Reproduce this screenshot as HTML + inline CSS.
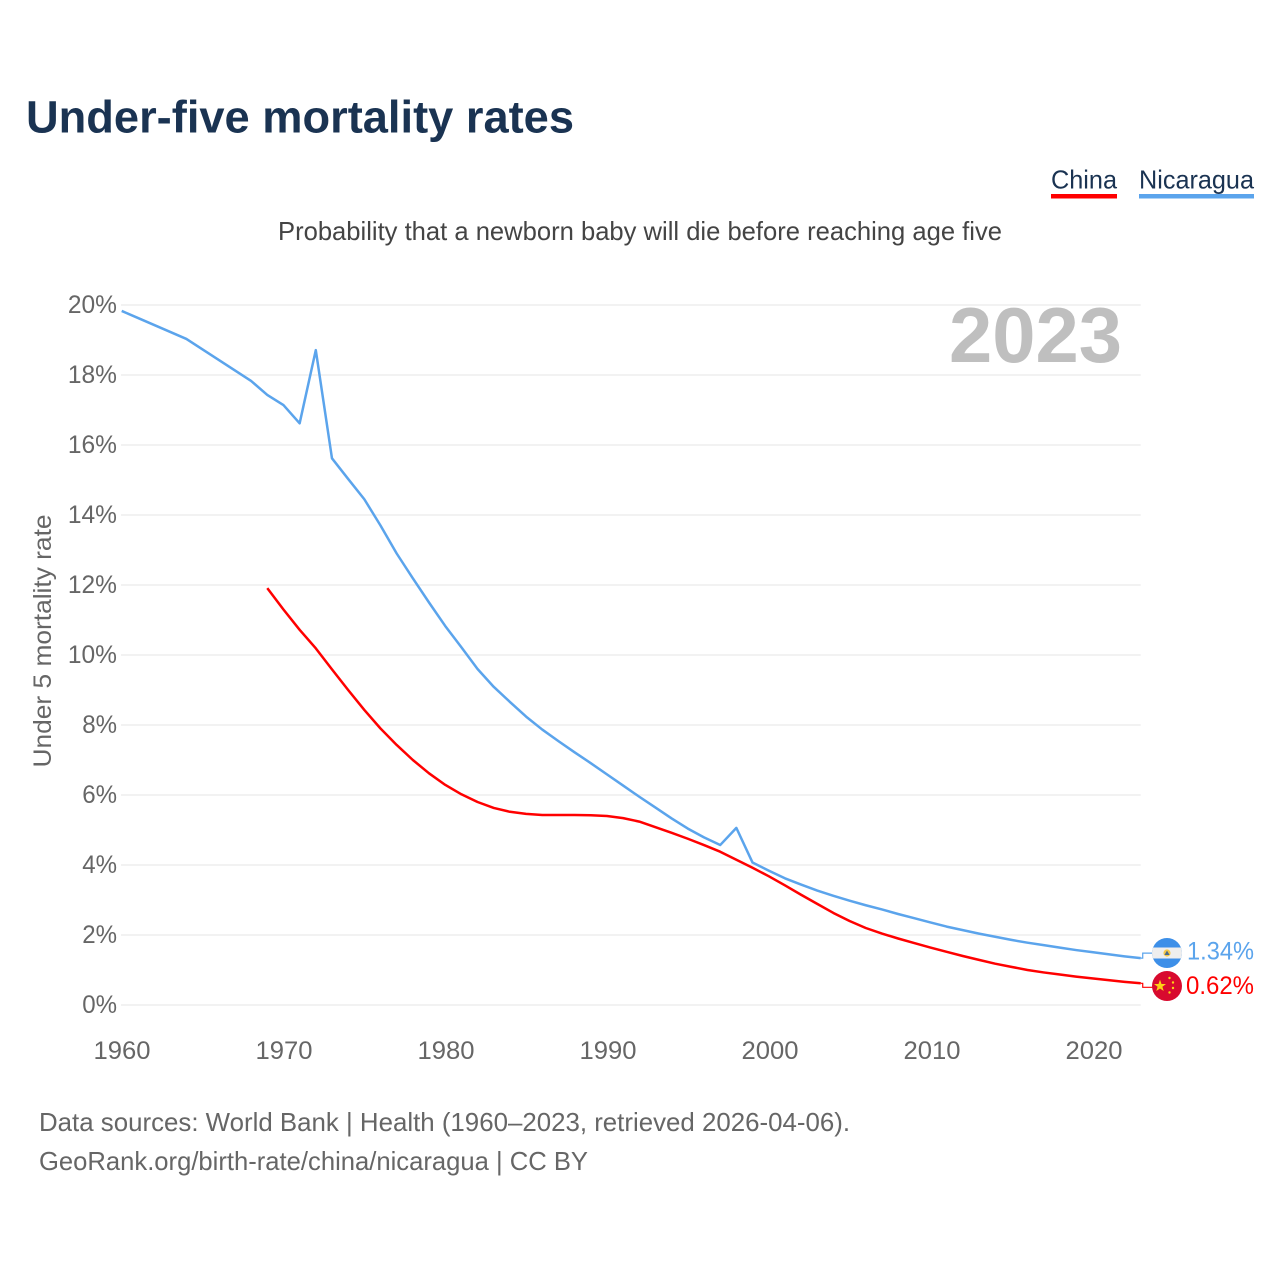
<!DOCTYPE html>
<html lang="en">
<head>
<meta charset="utf-8">
<title>Under-five mortality rates</title>
<style>
html,body{margin:0;padding:0;background:#fff;width:1280px;height:1280px;overflow:hidden}
svg{display:block;font-family:"Liberation Sans",Arial,sans-serif}
</style>
</head>
<body>
<svg id="chart" xmlns="http://www.w3.org/2000/svg" width="1280" height="1280" viewBox="0 0 1280 1280">
  <rect x="0" y="0" width="1280" height="1280" fill="#fff"/>
  <text x="26" y="132.5" font-size="45" font-weight="700" fill="#1a3352" textLength="548" lengthAdjust="spacingAndGlyphs">Under-five mortality rates</text>
  <g>
    <text x="1051" y="188.5" font-size="26" fill="#1a3352" textLength="66" lengthAdjust="spacingAndGlyphs">China</text>
    <rect x="1051" y="194" width="66" height="4.5" fill="#ff0000"/>
  </g>
  <g>
    <text x="1139" y="188.5" font-size="26" fill="#1a3352" textLength="115" lengthAdjust="spacingAndGlyphs">Nicaragua</text>
    <rect x="1139" y="194" width="115" height="4.5" fill="#5ba4ec"/>
  </g>
  <text x="278" y="240" font-size="26" fill="#444" textLength="724" lengthAdjust="spacingAndGlyphs">Probability that a newborn baby will die before reaching age five</text>
  <text transform="translate(51,641) rotate(-90)" text-anchor="middle" font-size="25" fill="#666" textLength="253" lengthAdjust="spacingAndGlyphs">Under 5 mortality rate</text>
  <g id="grid"></g>
  <g id="y-ticks"></g>
  <g id="x-ticks"></g>
  <text x="949" y="362" font-size="78" font-weight="700" fill="#bfbfbf" textLength="173" lengthAdjust="spacingAndGlyphs">2023</text>
  <g id="series"></g>
  <defs>
    <clipPath id="nic-clip"><circle cx="1167" cy="953" r="15"/></clipPath>
  </defs>
  <g>
    <g clip-path="url(#nic-clip)">
      <rect x="1152" y="938" width="30" height="30" fill="#3d8fe8"/>
      <rect x="1152" y="947.5" width="30" height="11" fill="#eeeeee"/>
    </g>
    <circle cx="1167" cy="953" r="3.6" fill="#f6c94a"/>
    <polygon points="1167,950.6 1169.6,955 1164.4,955" fill="#4b6c8c"/>
  </g>
  <g>
    <circle cx="1167" cy="986" r="15" fill="#d80a2e"/>
    <polygon points="1160,979.6 1161.5,984 1166,984 1162.4,986.8 1163.7,991 1160,988.5 1156.3,991 1157.6,986.8 1154,984 1158.5,984" fill="#fcd116"/>
    <circle cx="1169.5" cy="978" r="1.2" fill="#fcd116"/>
    <circle cx="1173" cy="982.5" r="1.2" fill="#fcd116"/>
    <circle cx="1173" cy="988" r="1.2" fill="#fcd116"/>
    <circle cx="1169.5" cy="992.5" r="1.2" fill="#fcd116"/>
  </g>
  <text x="39" y="1131" font-size="26" fill="#666" textLength="811" lengthAdjust="spacingAndGlyphs">Data sources: World Bank | Health (1960–2023, retrieved 2026-04-06).</text>
  <text x="39" y="1170" font-size="26" fill="#666" textLength="549" lengthAdjust="spacingAndGlyphs">GeoRank.org/birth-rate/china/nicaragua | CC BY</text>
</svg>
<script>
const years = [1960,1961,1962,1963,1964,1965,1966,1967,1968,1969,1970,1971,1972,1973,1974,1975,1976,1977,1978,1979,1980,1981,1982,1983,1984,1985,1986,1987,1988,1989,1990,1991,1992,1993,1994,1995,1996,1997,1998,1999,2000,2001,2002,2003,2004,2005,2006,2007,2008,2009,2010,2011,2012,2013,2014,2015,2016,2017,2018,2019,2020,2021,2022,2023];
const nicaragua = [19.83,19.63,19.43,19.23,19.03,18.73,18.43,18.13,17.83,17.43,17.14,16.62,18.71,15.62,15.03,14.45,13.7,12.9,12.19,11.5,10.83,10.22,9.6,9.09,8.66,8.24,7.87,7.54,7.22,6.91,6.59,6.27,5.95,5.64,5.33,5.04,4.79,4.57,5.06,4.07,3.84,3.62,3.44,3.27,3.12,2.98,2.85,2.73,2.6,2.48,2.36,2.24,2.14,2.04,1.95,1.86,1.78,1.71,1.64,1.57,1.51,1.45,1.39,1.34];
const china = [null,null,null,null,null,null,null,null,null,11.91,11.3,10.72,10.19,9.59,9.0,8.43,7.9,7.43,7.0,6.62,6.29,6.02,5.8,5.63,5.52,5.46,5.43,5.43,5.43,5.42,5.4,5.34,5.24,5.08,4.92,4.75,4.57,4.38,4.15,3.92,3.68,3.42,3.15,2.89,2.63,2.4,2.2,2.04,1.9,1.77,1.64,1.52,1.4,1.29,1.18,1.09,1.0,0.93,0.87,0.81,0.76,0.71,0.66,0.62];
const yTickValues = [0,2,4,6,8,10,12,14,16,18,20];
const xTickValues = [1960,1970,1980,1990,2000,2010,2020];
const endLabelNicaragua = "1.34%";
const endLabelChina = "0.62%";

const NS = "http://www.w3.org/2000/svg";
const xScale = year => 121.7 + (year - 1960) * 16.175;
const xLabelScale = year => 122 + (year - 1960) * 16.2;
const yScale = value => 1005 - value * 35;

function make(tag, parent, attrs, text) {
  const el = document.createElementNS(NS, tag);
  for (const k in attrs) el.setAttribute(k, attrs[k]);
  if (text !== undefined) el.textContent = text;
  parent.appendChild(el);
  return el;
}

const gridGroup = document.getElementById("grid");
const yGroup = document.getElementById("y-ticks");
const xGroup = document.getElementById("x-ticks");
const seriesGroup = document.getElementById("series");
const svgRoot = document.getElementById("chart");

yTickValues.forEach(v => {
  const line = make("line", gridGroup, {x1: 121, x2: xScale(2023), y1: yScale(v), y2: yScale(v), stroke: "#eeeeee", "stroke-width": 1.6});
  
  
  const s = v + "%";
  const label = make("text", yGroup, {x: 117, y: yScale(v) + 8, "text-anchor": "end", "font-size": 25, fill: "#666", textLength: (s.length - 1) * 14.3 + 20.5, lengthAdjust: "spacingAndGlyphs"}, s);
  
  
});

xTickValues.forEach(t => {
  const label = make("text", xGroup, {x: xLabelScale(t), y: 1059, "text-anchor": "middle", "font-size": 25, fill: "#666", textLength: 57, lengthAdjust: "spacingAndGlyphs"}, String(t));
  
  
});

function linePath(values) {
  let d = "";
  values.forEach((v, i) => {
    if (v === null) return;
    d += (d ? "L" : "M") + xScale(years[i]).toFixed(2) + " " + yScale(v).toFixed(2);
  });
  return d;
}

const nicaraguaLine = make("path", seriesGroup, {d: linePath(nicaragua), fill: "none", stroke: "#5ba4ec", "stroke-width": 2.5, "stroke-linejoin": "round"});



const chinaLine = make("path", seriesGroup, {d: linePath(china), fill: "none", stroke: "#ff0000", "stroke-width": 2.5, "stroke-linejoin": "round"});



const endX = xScale(2023);
const nicEndY = yScale(nicaragua[nicaragua.length - 1]);
const chnEndY = yScale(china[china.length - 1]);

const nicConnector = make("path", seriesGroup, {d: "M" + endX + " " + nicEndY + "H" + (endX + 2) + "V" + (nicEndY - 5) + "H" + (endX + 12), fill: "none", stroke: "#5ba4ec", "stroke-width": 1.2});



const chnConnector = make("path", seriesGroup, {d: "M" + endX + " " + chnEndY + "H" + (endX + 2) + "V" + (chnEndY + 4) + "H" + (endX + 12), fill: "none", stroke: "#ff0000", "stroke-width": 1.2});



const nicLabel = make("text", svgRoot, {x: 1254, y: nicEndY + 1.5, "text-anchor": "end", "font-size": 25, fill: "#5ba4ec", textLength: 67, lengthAdjust: "spacingAndGlyphs"}, endLabelNicaragua);



const chnLabel = make("text", svgRoot, {x: 1254, y: chnEndY + 10.5, "text-anchor": "end", "font-size": 25, fill: "#ff0000", textLength: 68, lengthAdjust: "spacingAndGlyphs"}, endLabelChina);


</script>
</body>
</html>
